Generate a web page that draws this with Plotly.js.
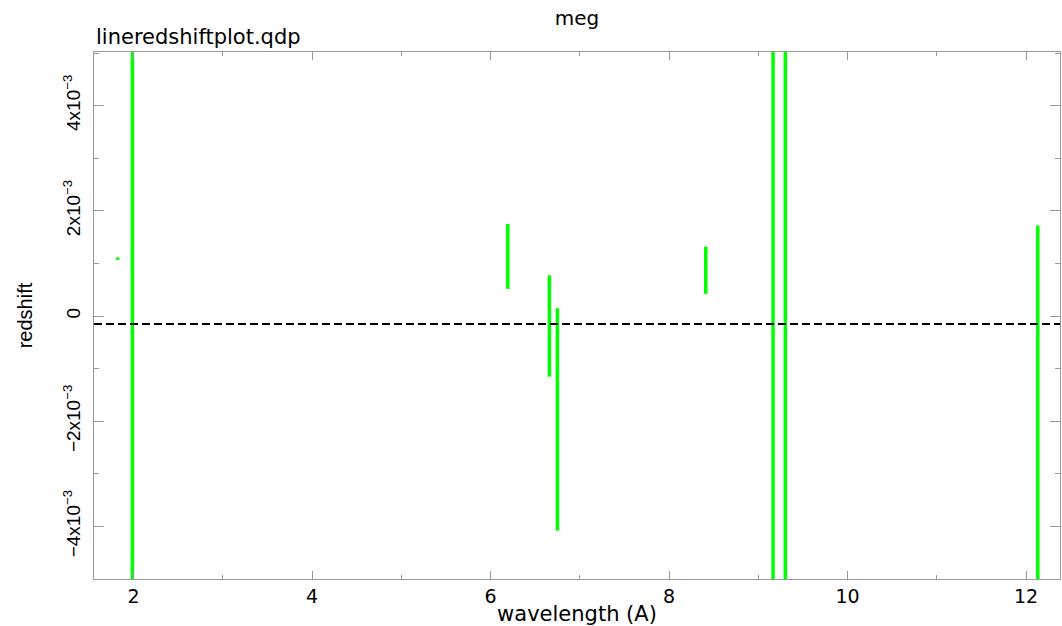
<!DOCTYPE html>
<html><head><meta charset="utf-8">
<script src="https://cdn.plot.ly/plotly-3.0.1.min.js"></script>
<style>body{margin:0;background:#fff}#plot{width:1062px;height:626px}</style>
</head><body><div id="plot"></div>
<script>
// line wavelengths (A) and redshift ranges
const wavelength = [1.823, 1.987, 6.193, 6.659, 6.749, 8.411, 9.165, 9.303, 12.131];
const zLow  = [1.065e-3, -0.02, 0.516e-3, -1.153e-3, -4.08e-3, 0.422e-3, -0.02, -0.02, -0.02];
const zHigh = [1.115e-3,  0.02, 1.75e-3,   0.775e-3,  0.146e-3, 1.32e-3,  0.02,  0.02, 1.72e-3];
const meanRedshift = -1.5e-4;
const yTickVals = [-4e-3, -2e-3, 0, 2e-3, 4e-3];
const yTickText = ['−4x10<sup>−3</sup>', '−2x10<sup>−3</sup>', '0', '2x10<sup>−3</sup>', '4x10<sup>−3</sup>'];
const xTickVals = [2, 4, 6, 8, 10, 12];

const xs = [], ys = [];
wavelength.forEach((w, i) => { xs.push(w, w, null); ys.push(zLow[i], zHigh[i], null); });

const hFont = 'DejaVu Sans, sans-serif';
const vFont = 'Liberation Sans, Arial, sans-serif';
const traces = [
  {x: xs, y: ys, mode: 'lines', line: {color: '#00ff00', width: 3.5}, hoverinfo: 'skip', showlegend: false},
];
const layout = {
  width: 1062, height: 626,
  margin: {l: 94, r: 2, t: 52, b: 47},
  paper_bgcolor: '#fff', plot_bgcolor: '#fff',
  font: {family: hFont, size: 19, color: '#000'},
  showlegend: false,
  title: {text: 'meg', x: 0.5, xref: 'paper', y: 0.971, yref: 'container', yanchor: 'middle',
          font: {family: hFont, size: 20, color: '#000'}},
  xaxis: {
    range: [1.557, 12.38], tickvals: xTickVals, ticks: 'inside', ticklen: 8, tickcolor: '#999',
    showline: true, linecolor: '#999', linewidth: 1.2, mirror: 'allticks', showgrid: false, zeroline: false,
    tickfont: {family: hFont, size: 19, color: '#000'},
    minor: {dtick: 1, ticks: 'inside', ticklen: 4, tickcolor: '#999', showgrid: false},
    title: {text: 'wavelength (A)', standoff: 0, font: {family: hFont, size: 21, color: '#000'}}
  },
  yaxis: {
    range: [-5.0e-3, 5.02e-3], tickvals: yTickVals, ticktext: yTickText, tickangle: -90,
    ticks: 'inside', ticklen: 10, tickcolor: '#999', ticklabelstandoff: 5,
    showline: true, linecolor: '#999', linewidth: 1.2, mirror: 'allticks', showgrid: false, zeroline: false,
    tickfont: {family: vFont, size: 19, color: '#000'},
    minor: {tickvals: [-5e-3, -3e-3, -1e-3, 1e-3, 3e-3, 5e-3], ticks: 'inside', ticklen: 5, tickcolor: '#999', showgrid: false},
    title: {text: 'redshift', standoff: 22, font: {family: vFont, size: 20, color: '#000'}}
  },
  shapes: [
    {type: 'line', xref: 'paper', x0: 0, x1: 1, yref: 'y', y0: meanRedshift, y1: meanRedshift,
     line: {color: '#000', width: 2, dash: '8px,4px'}}
  ],
  annotations: [
    {text: 'lineredshiftplot.qdp', xref: 'paper', x: 0, xanchor: 'left', yref: 'paper', y: 1, yanchor: 'bottom', yshift: 1,
     showarrow: false, font: {family: hFont, size: 21, color: '#000'}}
  ]
};
Plotly.newPlot('plot', traces, layout, {displayModeBar: false, staticPlot: true});
</script></body></html>
